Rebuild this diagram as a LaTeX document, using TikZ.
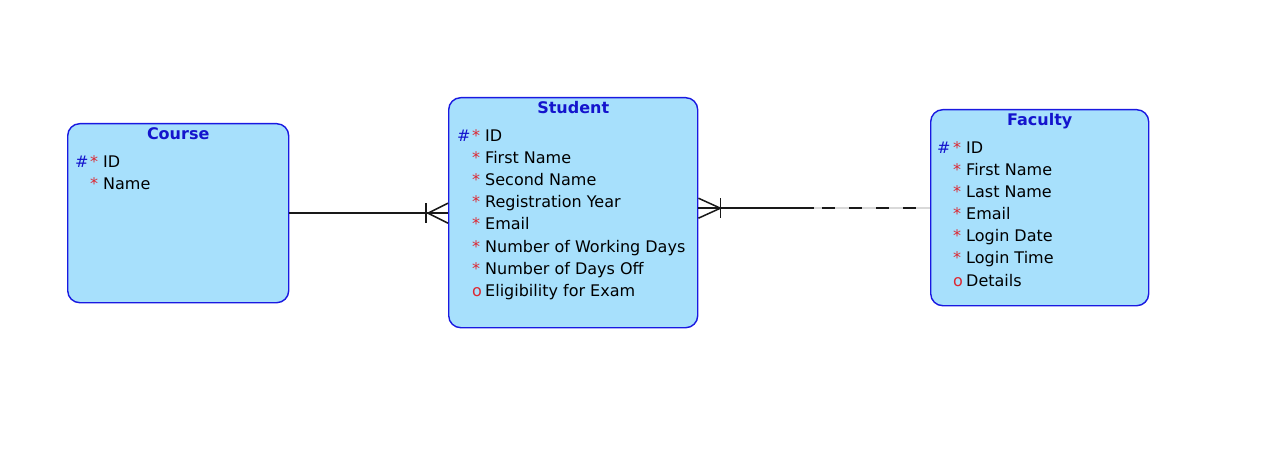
\documentclass[tikz,border=0pt]{standalone}
\usepackage{fontspec}
\setmainfont{DejaVu Sans}
\usetikzlibrary{calc}
\definecolor{entityfill}{RGB}{167,224,252}
\definecolor{entityline}{RGB}{25,25,225}
\definecolor{titleblue}{RGB}{20,20,205}
\definecolor{markred}{RGB}{220,40,50}
\definecolor{linkdark}{RGB}{25,25,25}
\tikzset{
  entity/.style={
    draw=entityline,
    fill=entityfill,
    line width=1.4pt,
    rounded corners=12pt,
    anchor=north west,
    inner sep=0pt
  },
  etitle/.style={
    font=\fontsize{16}{19}\selectfont\bfseries,
    text=titleblue,
    anchor=base,
    inner sep=0pt
  },
  attr/.style={
    anchor=base west,
    inner sep=0pt
  },
  keymark/.style={attr, text=titleblue},
  reqmark/.style={attr, text=markred},
  link/.style={draw=linkdark, line width=1.5pt},
  every picture/.style={
    font=\fontsize{16}{19}\selectfont
  }
}

\begin{document}
\begin{tikzpicture}[x=1pt,y=-1pt]
  \useasboundingbox (0,0) rectangle (1280,473);
  % entities
  \node[entity,minimum width=221pt,minimum height=179pt] (course) at (67,123) {};
  \node[entity,minimum width=249pt,minimum height=230pt] (student) at (448,97) {};
  \node[entity,minimum width=218pt,minimum height=196pt] (faculty) at (930,109) {};
  \node[etitle] (course-title) at ($(course.north)+(0,17)$) {Course};
  \node[etitle] (student-title) at ($(student.north)+(0,17)$) {Student};
  \node[etitle] (faculty-title) at ($(faculty.north)+(0,17)$) {Faculty};
  % attributes
  \node[keymark] (course-key) at ($(course.north west)+(8,45)$) {\#};
  \foreach \m/\t [count=\i] in {*/ID,*/Name}{
    \node[reqmark] (course-m\i) at ($(course.north west)+(23,23+22*\i)$) {\m};
    \node[attr] (course-a\i) at ($(course.north west)+(36,23+22*\i)$) {\t};
  }
  \node[keymark] (student-key) at ($(student.north west)+(9,45)$) {\#};
  \foreach \m/\t [count=\i] in {*/ID,*/First Name,*/Second Name,*/Registration Year,
      */Email,*/Number of Working Days,*/Number of Days Off,o/Eligibility for Exam}{
    \node[reqmark] (student-m\i) at ($(student.north west)+(24,23+22*\i)$) {\m};
    \node[attr] (student-a\i) at ($(student.north west)+(37,23+22*\i)$) {\t};
  }
  \node[keymark] (faculty-key) at ($(faculty.north west)+(7,45)$) {\#};
  \foreach \m/\t [count=\i] in {*/ID,*/First Name,*/Last Name,*/Email,
      */Login Date,*/Login Time,o/Details}{
    \node[reqmark] (faculty-m\i) at ($(faculty.north west)+(23,23+22*\i)$) {\m};
    \node[attr] (faculty-a\i) at ($(faculty.north west)+(36,23+22*\i)$) {\t};
  }
  % course -- student
  \coordinate (cs) at (course.east -| student.west);
  \draw[link] (course.east) -- (cs);
  \draw[link] ($(cs)+(0,-10)$) -- ($(cs)+(-20,0)$) -- ($(cs)+(0,10)$);
  \draw[link] ($(cs)+(-22,-10)$) -- ($(cs)+(-22,10)$);
  % student -- faculty
  \coordinate (fw) at ($(faculty.west)+(0,0.5)$);
  \coordinate (sf) at (student.east |- fw);
  \coordinate (dashstart) at ($(sf)+(116,0)$);
  \draw[link] (sf) -- (dashstart);
  \draw[line width=2pt, draw=black!15] (dashstart) -- (fw);
  \draw[link, dash pattern=on 13pt off 14pt, dash phase=19pt] (dashstart) -- (fw);
  \draw[link] ($(sf)+(0,-10)$) -- ($(sf)+(22,0)$) -- ($(sf)+(0,10)$);
  \draw[link] ($(sf)+(22,-10)$) -- ($(sf)+(22,10)$);
\end{tikzpicture}
\end{document}
